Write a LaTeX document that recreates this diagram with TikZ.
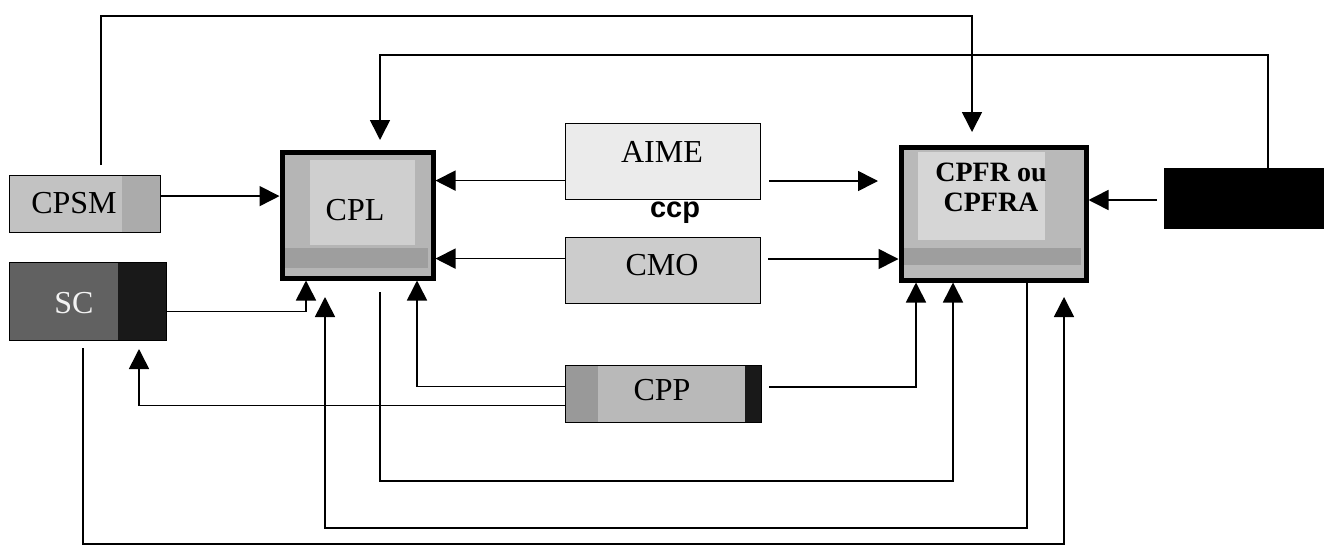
\documentclass[tikz,border=0pt]{standalone}
\usepackage{fontspec}
\setmainfont{Liberation Serif}
\newfontfamily\sansf{Liberation Sans}
\usetikzlibrary{arrows.meta}
\begin{document}
\begin{tikzpicture}[x=1pt,y=-1pt,
  arr/.style={line width=1.6pt,-{Triangle[length=20pt,width=20pt]}},
  thinbox/.style={draw=black,line width=1.2pt,anchor=north west,inner sep=0pt},
  bigbox/.style={draw=black,line width=5pt,anchor=north west,inner sep=0pt},
  lbl/.style={font=\fontsize{32}{34}\selectfont,inner sep=0pt}
]
\useasboundingbox (0,0) rectangle (1324,546);
\fill[white] (0,0) rectangle (1324,546);

% ---- fills ----
% CPSM
\fill[gray!48] (9,175) rectangle (160,232);
\fill[gray!66] (122,175) rectangle (160,232);
% SC
\fill[black!62] (9,262) rectangle (118,340);
\fill[black!90] (118,262) rectangle (166,340);
% CPL
\fill[gray!58] (279.5,149.5) rectangle (430.5,275.5);
\fill[gray!38] (310,160) rectangle (415,245);
\fill[gray!76] (282,248) rectangle (428,268);
% AIME, CMO
\fill[gray!16] (565,123) rectangle (760,199);
\fill[gray!40] (565,237) rectangle (760,303);
% CPP
\fill[gray!55] (565,365) rectangle (761,422);
\fill[gray!80] (565,365) rectangle (598,422);
\fill[black!90] (745,365) rectangle (761,422);
% CPFR
\fill[gray!55] (898.5,144.5) rectangle (1083.5,277.5);
\fill[gray!32] (918,152) rectangle (1045,240);
\fill[gray!76] (901,248) rectangle (1081,265);
% black box
\fill[black] (1164,168) rectangle (1324,228);

% ---- nodes ----
\node[thinbox,minimum width=151pt,minimum height=57pt] (CPSM) at (9,175) {};
\node[lbl] at (74,203) {CPSM};
\node[thinbox,minimum width=157pt,minimum height=78pt] (SC) at (9,262) {};
\node[lbl,text=gray!10] at (74,303) {SC};
\node[bigbox,minimum width=151pt,minimum height=126pt] (CPL) at (279.5,149.5) {};
\node[lbl] at (355,210) {CPL};
\node[thinbox,minimum width=195pt,minimum height=76pt] (AIME) at (565,123) {};
\node[lbl] at (662,152) {AIME};
\node[font=\sansf\bfseries\fontsize{29}{31}\selectfont,inner sep=0pt] (ccp) at (675,213) {ccp};
\node[thinbox,minimum width=195pt,minimum height=66pt] (CMO) at (565,237) {};
\node[lbl] at (662,265) {CMO};
\node[thinbox,minimum width=196pt,minimum height=57pt] (CPP) at (565,365) {};
\node[lbl] at (662,390) {CPP};
\node[bigbox,minimum width=185pt,minimum height=133pt] (CPFR) at (898.5,144.5) {};
\node[font=\bfseries\fontsize{28}{30}\selectfont,inner sep=0pt,align=center] at (991,187) {CPFR ou\\CPFRA};
\node[draw=black,fill=black,anchor=north west,inner sep=0pt,minimum width=160pt,minimum height=60pt] (BLK) at (1164,168) {};

% ---- free-end coordinates ----
\coordinate (a1) at (101,165);
\coordinate (a1t) at (972,132);
\coordinate (a2) at (1268,168);
\coordinate (a2t) at (380,140);
\coordinate (a5s) at (769,181);
\coordinate (a5t) at (878,181);
\coordinate (a7s) at (768,259);
\coordinate (a8s) at (1157,200);
\coordinate (a11t) at (139,349);
\coordinate (a12s) at (769,387);
\coordinate (a13s) at (380,292);
\coordinate (a14t) at (325,297);
\coordinate (a15s) at (83,348);
\coordinate (a15t) at (1064,297);

% ---- connectors ----
\draw[arr] (a1) |- (972,16) -- (a1t);
\draw[arr] (a2) |- (380,55) -- (a2t);
\draw[arr] ([yshift=8pt]CPSM.east) -- ([yshift=8pt]CPSM.east -| CPL.west);
\draw[arr] ([yshift=-19pt]AIME.west) -- ([yshift=-19pt]AIME.west -| CPL.east);
\draw[arr] (a5s) -- (a5t);
\draw[arr] ([yshift=12pt]CMO.west) -- ([yshift=12pt]CMO.west -| CPL.east);
\draw[arr] (a7s) -- (a7s -| CPFR.west);
\draw[arr] (a8s) -- (a8s -| CPFR.east);
\draw[arr] ([yshift=-10pt]SC.east) -| (306,0 |- CPL.south);
\draw[arr] ([yshift=7.5pt]CPP.west) -| (417,0 |- CPL.south);
\draw[arr] ([yshift=-11.5pt]CPP.west) -| (a11t);
\draw[arr] (a12s) -| (916,0 |- CPFR.south);
\draw[arr] (a13s) |- (953,481) -- (953,0 |- CPFR.south);
\draw[arr] (1027,0 |- CPFR.south) |- (325,528) -- (a14t);
\draw[arr] (a15s) |- (1064,544) -- (a15t);
\end{tikzpicture}
\end{document}
